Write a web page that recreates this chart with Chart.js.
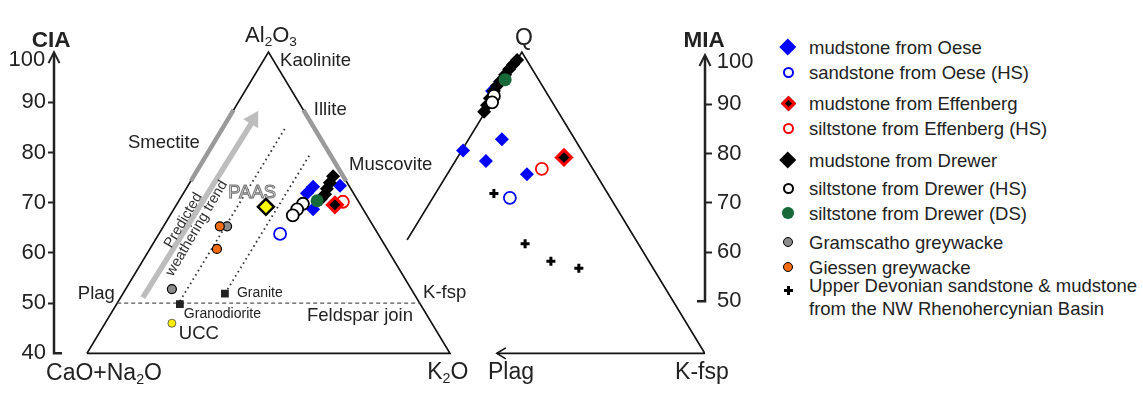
<!DOCTYPE html>
<html>
<head>
<meta charset="utf-8">
<script src="https://cdn.jsdelivr.net/npm/chart.js@4.4.1/dist/chart.umd.min.js"></script>
<style>
body { margin: 0; background: #fff; width: 1143px; height: 397px; overflow: hidden; position: relative;
       font-family: "Liberation Sans", Arial, sans-serif; color: #222; }
#chart { position: absolute; left: 0; top: 0; width: 770px; height: 397px; }
.item { position: absolute; left: 809px; font-size: 18.5px; line-height: 23px; white-space: nowrap; }
.mk { position: absolute; box-sizing: border-box; }
.dia { transform: rotate(45deg); }
.cir { border-radius: 50%; }
</style>
</head>
<body>
<canvas id="chart" width="770" height="397"></canvas>

<div id="legend">
  <span class="mk dia" style="left:782.25px;top:41.25px;width:11.5px;height:11.5px;background:#0000ff"></span>
  <div class="item" style="top:35.5px">mudstone from Oese</div>
  <span class="mk cir" style="left:782.5px;top:66.5px;width:11px;height:11px;border:2px solid #0000ff;background:#fff"></span>
  <div class="item" style="top:60.5px">sandstone from Oese (HS)</div>

  <span class="mk dia" style="left:782.5px;top:97.5px;width:11px;height:11px;border:3px solid #ff0000;background:#000"></span>
  <div class="item" style="top:91.5px">mudstone from Effenberg</div>
  <span class="mk cir" style="left:782.5px;top:122.5px;width:11px;height:11px;border:2px solid #ff0000;background:#fff"></span>
  <div class="item" style="top:116.5px">siltstone from Effenberg (HS)</div>

  <span class="mk dia" style="left:782.25px;top:154.25px;width:11.5px;height:11.5px;background:#000"></span>
  <div class="item" style="top:148.5px">mudstone from Drewer</div>
  <span class="mk cir" style="left:782.5px;top:182.5px;width:11px;height:11px;border:2px solid #000;background:#fff"></span>
  <div class="item" style="top:176.5px">siltstone from Drewer (HS)</div>
  <span class="mk cir" style="left:782.25px;top:207.25px;width:11.5px;height:11.5px;background:#17693a"></span>
  <div class="item" style="top:201.5px">siltstone from Drewer (DS)</div>

  <span class="mk cir" style="left:783px;top:237px;width:10px;height:10px;border:1.5px solid #000;background:#8c8c8c"></span>
  <div class="item" style="top:230.5px">Gramscatho greywacke</div>
  <span class="mk cir" style="left:783px;top:262px;width:10px;height:10px;border:1.5px solid #000;background:#f36c12"></span>
  <div class="item" style="top:255.5px">Giessen greywacke</div>

  <span class="mk" style="left:783.5px;top:288.5px;width:9px;height:3px;background:#000"></span>
  <span class="mk" style="left:786.5px;top:285.5px;width:3px;height:9px;background:#000"></span>
  <div class="item" style="top:273.5px">Upper Devonian sandstone &amp; mudstone<br>from the NW Rhenohercynian Basin</div>
</div>

<script>
// ---------- data ----------
// left diagram (A-CN-K): x = position across the triangle base (0..100), y = CIA
const oeseMudCIA      = [[62.3, 73.2], [60.6, 71.9], [62.3, 68.7], [69.7, 73.4]];
const oeseSandCIA     = [[53.2, 63.8]];
const effenbergMudCIA = [[68.3, 69.6]];
const effenbergSiltCIA = [[70.5, 70.2]];
const drewerMudCIA    = [[67.8, 75.3], [66.9, 74.0], [66.1, 72.8], [65.6, 71.7], [64.5, 70.8]];
const drewerSiltHSCIA = [[59.5, 69.8], [57.9, 68.7], [56.7, 67.5]];
const drewerSiltDSCIA = [[63.4, 70.4]];
const gramscathoCIA   = [[23.4, 52.8], [38.6, 65.3]];
const giessenCIA      = [[36.6, 65.3], [35.8, 60.8]];
const paasCIA         = [[49.3, 69.2]];
const uccCIA          = [[23.4, 46.0]];
const granodioriteCIA = [[25.6, 49.8]];
const graniteCIA      = [[38.0, 51.9]];

// right diagram (Q-Plag-K-fsp): same x units, y = MIA
const oeseMudMIA      = [[103.6, 80.6], [114.3, 82.9], [109.9, 78.5], [121.2, 75.8], [111.6, 92.7]];
const oeseSandMIA     = [[116.5, 71.0]];
const effenbergMudMIA = [[131.4, 79.2]];
const effenbergSiltMIA = [[125.3, 76.9]];
const drewerMudMIA    = [[118.5, 99.0], [117.4, 98.1], [116.3, 97.1], [115.2, 96.0], [113.8, 94.6],
                         [112.9, 93.7], [112.1, 92.7], [111.0, 91.2], [110.2, 89.8], [109.4, 88.5]];
const drewerSiltHSMIA = [[112.1, 91.7], [111.6, 90.4]];
const drewerSiltDSMIA = [[115.2, 95.0]];
const devonianMIA     = [[112.1, 71.9], [120.7, 61.7], [127.8, 58.1], [135.5, 56.7]];

// axis ticks
const ciaTicks = [40, 50, 60, 70, 80, 90];
const miaTicks = [50, 60, 70, 80, 90];

// diagram frame (plot units, y on the CIA scale)
const leftTriangle  = [[0, 40], [50, 100], [100, 40], [0, 40]];
const rightTriangle = [[88.2, 62.6], [119.8, 100], [170.2, 40], [112.9, 40]];
const feldsparJoin  = [[8.33, 50], [91.67, 50]];
const mixLine1      = [[25.6, 50.4], [54.8, 85.1]];
const mixLine2      = [[38.0, 51.9], [61.4, 79.6]];
const smectiteBar   = [[28.6, 74.3], [40.4, 88.5]];
const illiteBar     = [[59.6, 88.5], [71.4, 74.3]];
const trendShaft    = [[15.4, 51.1], [45.6, 86.2]];
const trendHead     = [[45.8, 86.6]];

// text annotations: [x, y] on the CIA scale unless axis says otherwise
const annotations = [
  { text: 'Al_2O_3', at: [50.7, 103.2], size: 22, align: 'center' },
  { text: 'Kaolinite', at: [53.2, 98.3], align: 'left' },
  { text: 'Illite', at: [62.5, 88.5], align: 'left' },
  { text: 'Smectite', at: [21.2, 81.9], align: 'center' },
  { text: 'Muscovite', at: [72.2, 77.5], align: 'left' },
  { text: 'PAAS', at: [45.5, 71.9], align: 'center', outline: true },
  { text: 'Plag', at: [7.7, 51.9], align: 'right' },
  { text: 'K-fsp', at: [92.6, 52.0], align: 'left' },
  { text: 'Granite', at: [41.3, 51.9], size: 14, align: 'left' },
  { text: 'Granodiorite', at: [26.7, 47.9], size: 14, align: 'left' },
  { text: 'UCC', at: [25.3, 43.8], align: 'left' },
  { text: 'Feldspar join', at: [89.8, 47.4], align: 'right' },
  { text: 'CaO+Na_2O', at: [4.7, 36.0], size: 23, align: 'center' },
  { text: 'K_2O', at: [99.4, 36.2], size: 23, align: 'center' },
  { text: 'Q', at: [120.4, 102.6], size: 23, align: 'center' },
  { text: 'Plag', at: [116.8, 36.2], size: 23, align: 'center' },
  { text: 'K-fsp', at: [169.4, 36.2], size: 23, align: 'center' },
  { text: 'CIA', at: [-9.9, 102.3], size: 22.5, align: 'center', bold: true },
  { text: 'MIA', at: [170.0, 102.3], size: 22.5, align: 'center', bold: true },
  { text: '100', at: [-11.5, 98.5], size: 22, align: 'right' },
  { text: '100', at: [173.5, 98.5], size: 22, align: 'left', axis: 'y2' },
  { lines: ['Predicted', 'weathering trend'], at: [28.4, 65.7], size: 14.5, align: 'center', rotate: -59.6, color: '#333' }
];

const FONT = '"Liberation Sans", Arial, sans-serif';
const pts = a => a.map(([x, y]) => ({ x, y }));

function marks(label, data, axis, style, order) {
  return Object.assign({ label, data: pts(data), yAxisID: axis, showLine: false, order,
    pointBorderWidth: 0, pointBorderColor: '#000' }, style);
}
function line(data, style, order) {
  return Object.assign({ data: pts(data), yAxisID: 'y', showLine: true, pointRadius: 0,
    fill: false, tension: 0, borderWidth: 1.7, borderColor: '#111', order: order || 20 }, style);
}

const blueDia  = { pointStyle: 'rectRot', pointRadius: 7, pointBackgroundColor: '#0000ff' };
const blueCirc = { pointStyle: 'circle', pointRadius: 6, pointBackgroundColor: '#fff', pointBorderColor: '#0000ff', pointBorderWidth: 1.8 };
const redDia   = { pointStyle: 'rectRot', pointRadius: 7.5, pointBackgroundColor: '#000', pointBorderColor: '#ff0000', pointBorderWidth: 3 };
const redCirc  = { pointStyle: 'circle', pointRadius: 6, pointBackgroundColor: '#fff', pointBorderColor: '#ff0000', pointBorderWidth: 1.8 };
const blackDia = { pointStyle: 'rectRot', pointRadius: 7, pointBackgroundColor: '#000' };
const blackCirc = { pointStyle: 'circle', pointRadius: 6, pointBackgroundColor: '#fff', pointBorderColor: '#000', pointBorderWidth: 1.8 };
const greenCirc = { pointStyle: 'circle', pointRadius: 6.5, pointBackgroundColor: '#17693a' };

const datasets = [
  // samples, left diagram
  marks('mudstone from Oese', oeseMudCIA, 'y', blueDia, 6),
  marks('sandstone from Oese (HS)', oeseSandCIA, 'y', blueCirc, 5),
  marks('mudstone from Effenberg', effenbergMudCIA, 'y', redDia, 3),
  marks('siltstone from Effenberg (HS)', effenbergSiltCIA, 'y', redCirc, 3),
  marks('mudstone from Drewer', drewerMudCIA, 'y', blackDia, 4),
  marks('siltstone from Drewer (HS)', drewerSiltHSCIA, 'y', blackCirc, 2),
  marks('siltstone from Drewer (DS)', drewerSiltDSCIA, 'y', greenCirc, 1),
  marks('Gramscatho greywacke', gramscathoCIA, 'y',
    { pointStyle: 'circle', pointRadius: 4.5, pointBackgroundColor: '#8c8c8c', pointBorderWidth: 1.2 }, 5),
  marks('Giessen greywacke', giessenCIA, 'y',
    { pointStyle: 'circle', pointRadius: 4.5, pointBackgroundColor: '#f36c12', pointBorderWidth: 1.2 }, 4),
  marks('PAAS', paasCIA, 'y',
    { pointStyle: 'rectRot', pointRadius: 8, pointBackgroundColor: '#ffff00', pointBorderWidth: 2.5 }, 1),
  marks('UCC', uccCIA, 'y',
    { pointStyle: 'circle', pointRadius: 4, pointBackgroundColor: '#ffee00', pointBorderColor: '#444', pointBorderWidth: 0.8 }, 5),
  marks('Granodiorite', granodioriteCIA, 'y', { pointStyle: 'rect', pointRadius: 5.5, pointBackgroundColor: '#222' }, 5),
  marks('Granite', graniteCIA, 'y', { pointStyle: 'rect', pointRadius: 5.5, pointBackgroundColor: '#222' }, 5),

  // samples, right diagram
  marks('mudstone from Oese', oeseMudMIA, 'y2', blueDia, 6),
  marks('sandstone from Oese (HS)', oeseSandMIA, 'y2', blueCirc, 5),
  marks('mudstone from Effenberg', effenbergMudMIA, 'y2', redDia, 3),
  marks('siltstone from Effenberg (HS)', effenbergSiltMIA, 'y2', redCirc, 3),
  marks('mudstone from Drewer', drewerMudMIA, 'y2', blackDia, 4),
  marks('siltstone from Drewer (HS)', drewerSiltHSMIA, 'y2', blackCirc, 2),
  marks('siltstone from Drewer (DS)', drewerSiltDSMIA, 'y2', greenCirc, 1),
  marks('Upper Devonian sandstone & mudstone', devonianMIA, 'y2',
    { pointStyle: 'cross', pointRadius: 4.5, pointBorderColor: '#000', pointBorderWidth: 3 }, 5),

  // frame and guide lines (lower order draws on top)
  line(leftTriangle, {}, 20),
  line(rightTriangle, {}, 20),
  line(feldsparJoin, { borderColor: '#555', borderWidth: 1.2, borderDash: [4, 3] }, 19),
  line(mixLine1, { borderColor: '#333', borderWidth: 1.8, borderDash: [1.6, 3.4] }, 19),
  line(mixLine2, { borderColor: '#333', borderWidth: 1.8, borderDash: [1.6, 3.4] }, 19),
  line(smectiteBar, { borderColor: '#9a9a9a', borderWidth: 4.5 }, 18),
  line(illiteBar, { borderColor: '#9a9a9a', borderWidth: 4.5 }, 18),
  line(trendShaft, { borderColor: '#bdbdbd', borderWidth: 5.5 }, 15),
  marks('', trendHead, 'y',
    { pointStyle: 'triangle', pointRadius: 10, pointRotation: 30.4, pointBackgroundColor: '#bdbdbd' }, 14)
];

function richParts(s) {
  const out = [];
  for (let i = 0; i < s.length; i++) {
    if (s[i] === '_') { out.push([s[i + 1], true]); i++; }
    else if (out.length && !out[out.length - 1][1]) out[out.length - 1][0] += s[i];
    else out.push([s[i], false]);
  }
  return out;
}

function drawRich(ctx, a, text, px, py) {
  const size = a.size || 18.5;
  const weight = a.bold ? 'bold ' : '';
  const parts = richParts(text);
  const fontFor = sub => weight + (sub ? size * 0.62 : size) + 'px ' + FONT;
  let w = 0;
  parts.forEach(([t, sub]) => { ctx.font = fontFor(sub); w += ctx.measureText(t).width; });
  let sx = a.align === 'center' ? px - w / 2 : a.align === 'right' ? px - w : px;
  parts.forEach(([t, sub]) => {
    ctx.font = fontFor(sub);
    const ty = py + (sub ? size * 0.28 : 0);
    if (a.outline) {
      ctx.fillStyle = '#fff'; ctx.fillText(t, sx, ty);
      ctx.strokeStyle = '#777'; ctx.lineWidth = 1.1; ctx.strokeText(t, sx, ty);
    } else {
      ctx.fillStyle = a.color || '#222'; ctx.fillText(t, sx, ty);
    }
    sx += ctx.measureText(t).width;
  });
}

const decor = {
  id: 'decor',
  afterDraw(chart) {
    const { ctx, scales: { x, y, y2 } } = chart;
    ctx.save();
    ctx.strokeStyle = '#222';
    ctx.lineCap = 'butt';

    // CIA and MIA axes with arrow heads
    const axisArrow = (ax, yBottom, yTop, footDir) => {
      ctx.lineWidth = 2.5;
      ctx.beginPath();
      ctx.moveTo(ax + footDir * 8, yBottom); ctx.lineTo(ax, yBottom); ctx.lineTo(ax, yTop + 1);
      ctx.stroke();
      ctx.lineWidth = 2;
      ctx.beginPath();
      ctx.moveTo(ax - 5.5, yTop + 11); ctx.lineTo(ax, yTop); ctx.lineTo(ax + 5.5, yTop + 11);
      ctx.stroke();
    };
    axisArrow(y.right - 1, y.getPixelForValue(ciaTicks[0]), y.getPixelForValue(100), 1);
    axisArrow(y2.left, y2.getPixelForValue(miaTicks[0]), y2.getPixelForValue(100), -1);

    // open arrow head at the Plag end of the right base line
    const tip = rightTriangle[rightTriangle.length - 1];
    const tx = x.getPixelForValue(tip[0]), ty = y.getPixelForValue(tip[1]);
    ctx.strokeStyle = '#111'; ctx.lineWidth = 1.6;
    ctx.beginPath();
    ctx.moveTo(tx + 9, ty - 5.5); ctx.lineTo(tx, ty); ctx.lineTo(tx + 9, ty + 5.5);
    ctx.stroke();

    // annotations
    ctx.textBaseline = 'middle';
    ctx.textAlign = 'left';
    annotations.forEach(a => {
      const sc = a.axis === 'y2' ? y2 : y;
      const px = x.getPixelForValue(a.at[0]), py = sc.getPixelForValue(a.at[1]);
      if (a.lines) {
        ctx.save();
        ctx.translate(px, py);
        ctx.rotate(a.rotate * Math.PI / 180);
        const gap = a.size + 1;
        a.lines.forEach((t, i) => drawRich(ctx, a, t, 0, (i - (a.lines.length - 1) / 2) * gap));
        ctx.restore();
      } else {
        drawRich(ctx, a, a.text, px, py);
      }
    });
    ctx.restore();
  }
};

const tickOpts = (values, side) => ({
  grid: { display: true, drawOnChartArea: false, drawTicks: true, tickLength: 7, tickWidth: 2,
          tickColor: c => (c.tick && c.tick.value === values[0]) ? 'rgba(0,0,0,0)' : '#222' },
  border: { display: false },
  ticks: { color: '#222', padding: side === 'left' ? 2 : 5, autoSkip: false,
           font: { family: FONT, size: 22 } },
  afterBuildTicks: s => { s.ticks = values.map(v => ({ value: v })); }
});

new Chart(document.getElementById('chart'), {
  type: 'scatter',
  data: { datasets },
  options: {
    responsive: false,
    animation: false,
    layout: { padding: 0 },
    plugins: { legend: { display: false }, tooltip: { enabled: false } },
    scales: {
      x: { type: 'linear', display: false, min: -8.8, max: 170.25 },
      y: Object.assign({ type: 'linear', position: 'left', min: 33.4, max: 108.3,
        afterFit: s => { s.width = 55; s.paddingTop = 0; s.paddingBottom = 0; } }, tickOpts(ciaTicks, 'left')),
      y2: Object.assign({ type: 'linear', position: 'right', min: 32.69, max: 109.04,
        afterFit: s => { s.width = 65; s.paddingTop = 0; s.paddingBottom = 0; } }, tickOpts(miaTicks, 'right'))
    }
  },
  plugins: [decor]
});
</script>
</body>
</html>
